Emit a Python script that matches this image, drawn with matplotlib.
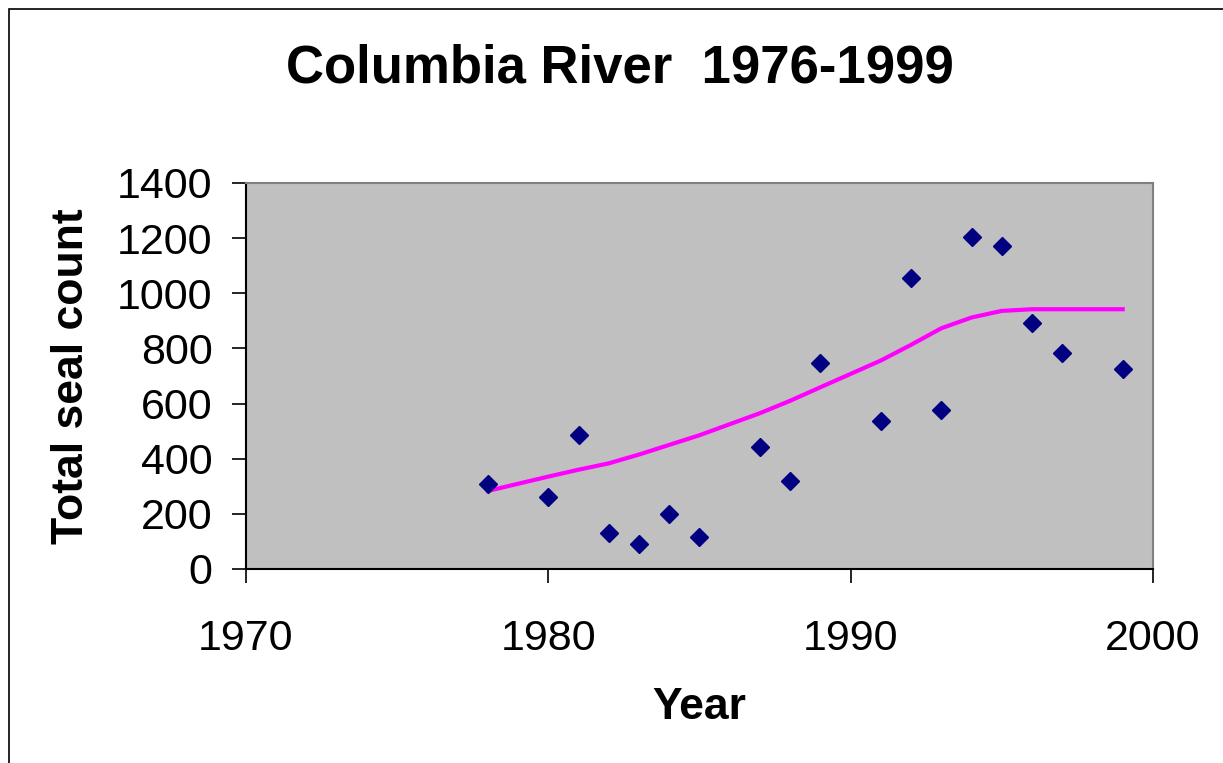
import matplotlib
matplotlib.use("Agg")
import matplotlib.pyplot as plt
from matplotlib.patches import Rectangle

# seal counts
years = [1978, 1980, 1981, 1982, 1983, 1984, 1985, 1987, 1988,
         1989, 1991, 1992, 1993, 1994, 1995, 1996, 1997, 1999]
counts = [308, 262, 486, 129, 91, 199, 117, 441, 320,
          746, 537, 1057, 577, 1203, 1170, 891, 783, 725]
# fitted curve
fit = [283, 335, 360, 383, 415, 450, 485, 565, 610,
       659, 756, 813, 873, 912, 936, 942, 942, 942]

xticks = [1970, 1980, 1990, 2000]
yticks = [0, 200, 400, 600, 800, 1000, 1200, 1400]

plt.rcParams['font.family'] = ['Liberation Sans', 'DejaVu Sans']

fig = plt.figure(figsize=(12.23, 7.63), dpi=100)
fig.patches.append(Rectangle((9 / 1223, -0.1), 1.2, (763 - 9) / 763 + 0.1,
                             transform=fig.transFigure, fill=False,
                             edgecolor='black', linewidth=1.2))

ax = fig.add_axes([0.2011, 0.2543, 0.7416, 0.5059])
ax.set_facecolor('#C0C0C0')

ax.plot(years, fit, color='#FF00FF', linewidth=3, zorder=2)
ax.plot(years, counts, linestyle='none', marker='D', markersize=9,
        color='#000080', zorder=3)

ax.set_xlim(1970, 2000)
ax.set_ylim(0, 1400)
ax.set_xticks(xticks)
ax.set_yticks(yticks)
ax.tick_params(axis='both', direction='out', length=10, width=1.2,
               labelsize=31, color='black')
ax.tick_params(axis='x', pad=26)
ax.tick_params(axis='y', pad=14)

for s in ['top', 'right']:
    ax.spines[s].set_color('#808080')
    ax.spines[s].set_linewidth(1.5)
for s in ['left', 'bottom']:
    ax.spines[s].set_color('black')
    ax.spines[s].set_linewidth(1.5)

ax.set_xlabel('Year', fontsize=32, fontweight='bold', labelpad=20)
ax.set_ylabel('Total seal count', fontsize=32, fontweight='bold', labelpad=18)

fig.text(0.507, 0.91, 'Columbia River  1976-1999', fontsize=38,
         fontweight='bold', ha='center', va='center')

fig.savefig('out.png', dpi=100)
